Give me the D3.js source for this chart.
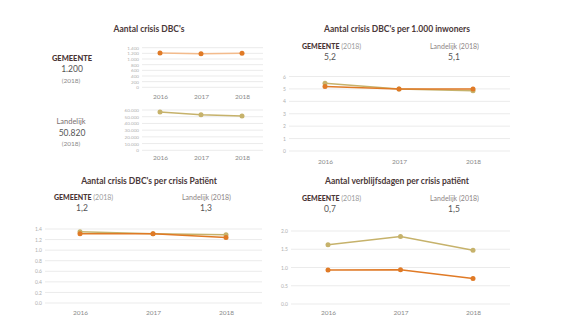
<!DOCTYPE html>
<html>
<head>
<meta charset="utf-8">
<script src="https://cdn.jsdelivr.net/npm/d3@7"></script>
<style>
  body { margin: 0; background: #fff; }
  svg { font-family: Lato, "Open Sans", sans-serif; }
</style>
</head>
<body>
<svg id="chart" width="580" height="327"></svg>
<script>
var years = ["2016", "2017", "2018"];

// Aantal crisis DBC's
var dbcGemeente = [1210, 1190, 1200];
var dbcLandelijk = [57000, 53000, 51000];
var dbcTicksGemeente = [0, 200, 400, 600, 800, 1000, 1200, 1400];
var dbcTicksLandelijk = [0, 10000, 20000, 30000, 40000, 50000, 60000];

// per 1.000 inwoners
var inwGemeente = [5.2, 5.0, 5.0];
var inwLandelijk = [5.45, 5.0, 4.85];
var inwTicks = [0, 1, 2, 3, 4, 5, 6];

// per crisis patient
var patGemeente = [1.31, 1.31, 1.24];
var patLandelijk = [1.35, 1.31, 1.29];
var patTicks = [0, 0.2, 0.4, 0.6, 0.8, 1.0, 1.2, 1.4];

// verblijfsdagen
var dagGemeente = [0.93, 0.94, 0.70];
var dagLandelijk = [1.62, 1.85, 1.47];
var dagTicks = [0, 0.5, 1.0, 1.5, 2.0];

var titles = ["Aantal crisis DBC's", "Aantal crisis DBC's per 1.000 inwoners",
              "Aantal crisis DBC's per crisis Patiënt", "Aantal verblijfsdagen per crisis patiënt"];
var gemeenteLabels = ["1.200", "5,2", "1,2", "0,7"];
var landelijkLabels = ["50.820", "5,1", "1,3", "1,5"];

var ORANGE = "#e07a26", KHAKI = "#c6b26b";
var nl = d3.formatLocale({decimal: ",", thousands: ".", grouping: [3], currency: ["€", ""]});

var svg = d3.select("#chart");

function title(txt, cx, y){
  svg.append("text").attr("x", cx).attr("y", y)
    .attr("text-anchor", "middle")
    .style("font-size", "8.5px").style("font-weight", "bold").style("fill", "#4a3838")
    .text(txt);
}

function header(x1, x2, y, gem, lan){
  var g = svg.append("text").attr("x", x1).attr("y", y).style("font-size", "7px");
  g.append("tspan").style("font-weight", "900").style("fill", "#4a3535").text("GEMEENTE");
  g.append("tspan").style("fill", "#9a9a9a").text(" (2018)");
  svg.append("text").attr("x", x1 + 28).attr("y", y + 11).attr("text-anchor", "middle")
    .style("font-size", "8.5px").style("fill", "#555").text(gem);
  svg.append("text").attr("x", x2).attr("y", y).style("font-size", "7px").style("fill", "#8d8585")
    .text("Landelijk (2018)");
  svg.append("text").attr("x", x2 + 24).attr("y", y + 11).attr("text-anchor", "middle")
    .style("font-size", "8.5px").style("fill", "#555").text(lan);
}

// generic line chart
function lineChart(o){
  var x = d3.scalePoint().domain(years).range(o.xr);
  var y = d3.scaleLinear().domain([0, o.ticks[o.ticks.length - 1]]).range(o.yr);
  var g = svg.append("g");

  g.selectAll(".grid").data(o.ticks).enter().append("line")
    .attr("x1", o.gx[0]).attr("x2", o.gx[1])
    .attr("y1", function(d){ return y(d); }).attr("y2", function(d){ return y(d); })
    .style("stroke", "#ebebeb").style("stroke-width", 1);

  var ax = d3.axisLeft(y).tickValues(o.ticks).tickSize(0).tickPadding(3).tickFormat(o.fmt);
  var axg = g.append("g").attr("transform", "translate(" + o.gx[0] + ",0)").call(ax);
  axg.select(".domain").remove();
  axg.selectAll("text").style("font-size", o.tickFont + "px").style("fill", "#b0b0b0")
    .style("font-family", "Lato, sans-serif");

  var xa = d3.axisBottom(x).tickSize(0).tickPadding(0);
  var xg = g.append("g").attr("transform", "translate(0," + o.xLabelY + ")").call(xa);
  xg.select(".domain").remove();
  xg.selectAll("text").style("font-size", "6.5px").style("fill", "#8a8a8a")
    .style("font-family", "Lato, sans-serif");

  o.series.forEach(function(s){
    var line = d3.line().x(function(d, i){ return x(years[i]); }).y(function(d){ return y(d); });
    g.append("path").datum(s.values).attr("d", line)
      .style("fill", "none").style("stroke", s.line || s.color).style("stroke-width", 1.5);
    g.selectAll(null).data(s.values).enter().append("circle")
      .attr("cx", function(d, i){ return x(years[i]); })
      .attr("cy", function(d){ return y(d); })
      .attr("r", 2.5).style("fill", s.color);
  });
}

// panel 1
title(titles[0], 149, 32);
svg.append("text").attr("x", 72).attr("y", 61).attr("text-anchor", "middle")
  .style("font-size", "7.5px").style("font-weight", "900").style("fill", "#4a3535").text("GEMEENTE");
svg.append("text").attr("x", 72).attr("y", 72).attr("text-anchor", "middle")
  .style("font-size", "8.5px").style("fill", "#555").text(gemeenteLabels[0]);
svg.append("text").attr("x", 71).attr("y", 83).attr("text-anchor", "middle")
  .style("font-size", "6.5px").style("fill", "#8a8a8a").text("(2018)");
svg.append("text").attr("x", 71).attr("y", 124).attr("text-anchor", "middle")
  .style("font-size", "7.5px").style("fill", "#7a7070").text("Landelijk");
svg.append("text").attr("x", 72).attr("y", 136).attr("text-anchor", "middle")
  .style("font-size", "8.5px").style("fill", "#555").text(landelijkLabels[0]);
svg.append("text").attr("x", 71).attr("y", 146).attr("text-anchor", "middle")
  .style("font-size", "6.5px").style("fill", "#8a8a8a").text("(2018)");

lineChart({xr: [160, 242], gx: [142, 263], yr: [87.3, 47.7], ticks: dbcTicksGemeente,
  fmt: nl.format(",d"), tickFont: 4.6, xLabelY: 94,
  series: [{values: dbcGemeente, color: ORANGE, line: "#f3bb8c"}]});
lineChart({xr: [160, 242], gx: [142, 263], yr: [150.3, 110], ticks: dbcTicksLandelijk,
  fmt: nl.format(",d"), tickFont: 4.6, xLabelY: 155,
  series: [{values: dbcLandelijk, color: KHAKI}]});

// panel 2
title(titles[1], 397, 32);
header(302, 430, 49, gemeenteLabels[1], landelijkLabels[1]);
lineChart({xr: [325, 473], gx: [289, 510], yr: [151, 76.5], ticks: inwTicks,
  fmt: d3.format("d"), tickFont: 5, xLabelY: 159,
  series: [{values: inwLandelijk, color: KHAKI}, {values: inwGemeente, color: ORANGE}]});

// panel 3
title(titles[2], 149, 184);
header(54, 182, 200, gemeenteLabels[2], landelijkLabels[2]);
lineChart({xr: [80, 226], gx: [45, 262], yr: [303, 229], ticks: patTicks,
  fmt: d3.format(".1f"), tickFont: 5, xLabelY: 310,
  series: [{values: patLandelijk, color: KHAKI}, {values: patGemeente, color: ORANGE}]});

// panel 4
title(titles[3], 397, 184);
header(302, 430, 201, gemeenteLabels[3], landelijkLabels[3]);
lineChart({xr: [328, 473], gx: [291, 510], yr: [304, 231], ticks: dagTicks,
  fmt: d3.format(".1f"), tickFont: 5, xLabelY: 310,
  series: [{values: dagLandelijk, color: KHAKI}, {values: dagGemeente, color: ORANGE}]});
</script>
</body>
</html>
